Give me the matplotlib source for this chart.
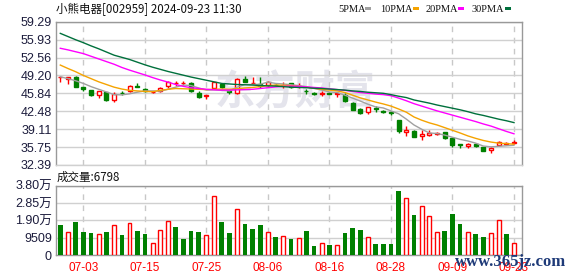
import matplotlib
matplotlib.use('Agg')
import matplotlib.pyplot as plt
from matplotlib.patches import Rectangle

plt.rcParams['font.family'] = ['Liberation Sans', 'Noto Sans CJK SC']

title = '小熊电器[002959] 2024-09-23 11:30'
tick_idx = [3, 11, 19, 27, 35, 43, 51, 59]
tick_labels = ['07-03', '07-15', '07-25', '08-06', '08-16', '08-28', '09-09', '09-23']
price_ticks = [32.39, 35.75, 39.11, 42.48, 45.84, 49.20, 52.56, 55.93, 59.29]
price_labels = ['32.39', '35.75', '39.11', '42.48', '45.84', '49.20', '52.56', '55.93', '59.29']
vol_ticks = [0, 9509, 19018, 28527, 38036]
vol_labels = ['0', '9509', '1.90万', '2.85万', '3.80万']

opens = [48.85, 48.45, 48.97, 46.95, 46.40, 45.45, 46.00, 44.50, 45.95, 46.35,
         47.20, 46.70, 46.10, 46.30, 47.20, 47.78, 47.84, 47.80, 45.95, 45.35,
         46.90, 47.60, 46.30, 45.90, 48.60, 47.72, 47.65, 47.40, 47.50, 47.35,
         47.70, 47.25, 46.35, 45.90, 45.80, 45.90, 45.75, 45.55, 44.05, 42.90,
         42.25, 43.00, 42.60, 42.40, 40.84, 38.65, 38.84, 37.75, 38.00, 38.25,
         38.55, 37.55, 36.25, 35.90, 36.30, 35.70, 35.20, 36.10, 36.35, 36.60]
highs = [48.92, 48.90, 49.10, 47.10, 46.55, 46.30, 46.15, 46.00, 46.30, 47.45,
         47.75, 46.85, 46.25, 47.00, 48.20, 48.20, 48.20, 47.90, 46.30, 45.55,
         48.05, 47.70, 46.50, 48.70, 49.15, 48.95, 48.95, 48.20, 47.65, 47.90,
         47.85, 47.70, 46.70, 46.10, 46.30, 46.00, 46.15, 45.85, 44.20, 43.00,
         43.30, 43.50, 42.70, 42.50, 40.90, 39.70, 38.90, 38.96, 38.96, 38.55,
         38.60, 37.60, 36.30, 36.60, 36.40, 35.75, 35.75, 36.95, 36.75, 37.10]
lows = [48.05, 47.66, 47.05, 46.35, 45.30, 44.90, 44.45, 44.15, 45.55, 46.00,
        47.05, 46.10, 45.85, 46.00, 46.80, 47.20, 47.35, 46.15, 44.90, 44.75,
        46.80, 46.80, 45.75, 45.80, 47.95, 47.60, 46.85, 47.30, 47.30, 46.80,
        46.80, 46.80, 45.70, 45.50, 45.40, 45.65, 45.20, 44.20, 42.70, 42.00,
        42.05, 42.40, 42.20, 41.80, 38.35, 37.84, 37.60, 37.00, 37.85, 38.00,
        37.30, 35.84, 35.60, 35.65, 35.80, 35.05, 34.70, 35.95, 36.20, 36.30]
closes = [48.85, 48.85, 47.10, 46.60, 45.45, 46.25, 44.60, 45.80, 45.85, 47.20,
          47.10, 46.30, 46.15, 46.90, 48.05, 47.78, 47.84, 46.20, 45.15, 45.45,
          47.95, 46.95, 46.00, 48.50, 48.00, 47.72, 47.15, 48.05, 47.35, 47.45,
          47.10, 47.30, 46.20, 45.80, 45.90, 45.80, 45.82, 44.45, 42.75, 42.20,
          43.20, 42.90, 42.35, 42.20, 38.75, 39.05, 37.71, 38.15, 38.40, 38.40,
          37.40, 36.20, 36.15, 36.30, 35.90, 35.10, 35.65, 36.65, 36.60, 36.72]
volumes = [16500, 12400, 18200, 12600, 12050, 11300, 12600, 16300, 10900, 17400,
           13150, 11500, 6850, 13500, 18500, 15400, 8700, 13150, 12600, 10750,
           32450, 18200, 12050, 25200, 17050, 14300, 16500, 12400, 9800, 10200,
           8700, 9100, 13150, 4800, 6850, 5400, 5750, 12050, 14850, 13700,
           9650, 5900, 5900, 5900, 35400, 31300, 22050, 26900, 21300, 12400,
           13150, 22600, 17050, 12400, 11500, 10000, 12050, 19100, 11500, 6798]
vol_up = [0, 1, 0, 0, 0, 1, 0, 1, 0, 1,
          0, 0, 1, 1, 1, 0, 0, 0, 0, 1,
          1, 0, 0, 1, 0, 0, 0, 1, 0, 1,
          0, 1, 0, 0, 1, 0, 1, 0, 0, 0,
          1, 0, 0, 0, 0, 1, 0, 1, 1, 1,
          0, 0, 0, 1, 0, 0, 1, 1, 0, 1]
ma5 = [48.95, 48.6, 48.2, 47.7, 47.1, 46.6, 46.1, 45.6, 45.55, 45.75,
       46.05, 46.3, 46.3, 46.25, 46.6, 47.0, 47.4, 47.3, 46.85, 46.45,
       46.5, 46.4, 46.3, 47.0, 47.5, 47.5, 47.55, 47.95, 47.7, 47.6,
       47.45, 47.3, 47.1, 46.75, 46.45, 46.1, 46.0, 45.5, 44.95, 44.4,
       43.8, 43.3, 43.1, 42.55, 42.0, 41.0, 39.9, 39.1, 38.4, 38.3,
       38.0, 37.6, 37.2, 36.9, 36.5, 35.95, 35.8, 35.9, 36.0, 36.1]
ma10 = [51.15, 50.5, 49.9, 49.2, 48.6, 48.0, 47.5, 47.0, 46.65, 46.4,
        46.3, 46.2, 46.15, 46.4, 46.6, 46.75, 46.7, 46.65, 46.6, 46.55,
        46.6, 46.65, 46.6, 46.7, 46.85, 46.95, 47.1, 47.3, 47.4, 47.35,
        47.3, 47.15, 47.0, 46.8, 46.6, 46.45, 46.3, 46.0, 45.5, 45.0,
        44.6, 44.2, 43.85, 43.45, 42.9, 42.3, 41.4, 40.8, 40.3, 39.9,
        39.4, 38.9, 38.4, 37.85, 37.4, 37.0, 36.7, 36.5, 36.4, 36.3]
ma20 = [54.3, 54.0, 53.65, 53.3, 52.8, 52.3, 51.8, 51.3, 50.7, 50.2,
        49.75, 49.3, 48.8, 48.35, 47.95, 47.5, 47.15, 46.9, 46.75, 46.6,
        46.5, 46.45, 46.45, 46.5, 46.55, 46.6, 46.75, 46.9, 47.05, 47.15,
        47.2, 47.15, 47.05, 46.95, 46.85, 46.7, 46.55, 46.4, 46.2, 46.0,
        45.85, 45.7, 45.6, 45.4, 44.95, 44.45, 43.9, 43.45, 43.0, 42.55,
        42.15, 41.75, 41.35, 40.95, 40.55, 40.1, 39.7, 39.2, 38.7, 38.25]
ma30 = [57.1, 56.5, 55.9, 55.35, 54.75, 54.2, 53.6, 53.0, 52.6, 52.2,
        51.7, 51.2, 50.75, 50.35, 49.95, 49.6, 49.25, 48.9, 48.6, 48.3,
        48.0, 47.7, 47.6, 47.5, 47.45, 47.4, 47.3, 47.25, 47.2, 47.1,
        47.0, 46.95, 46.9, 46.8, 46.75, 46.65, 46.55, 46.45, 46.3, 46.2,
        46.05, 45.95, 45.85, 45.6, 45.3, 45.05, 44.6, 44.3, 44.0, 43.65,
        43.35, 43.05, 42.75, 42.4, 42.0, 41.7, 41.35, 41.0, 40.7, 40.35]
ma_names = ['5PMA', '10PMA', '20PMA', '30PMA']
ma_colors = ['#a0a0a0', '#f5a300', '#ff00ff', '#00703c']

RED = '#ff0000'
GREEN = '#008000'
W, H = 578, 276

fig = plt.figure(figsize=(W / 100, H / 100), dpi=100)
fig.patch.set_facecolor('white')

def px_axes(left, top, right, bottom):
    return fig.add_axes([left / W, 1 - bottom / H, (right - left) / W, (bottom - top) / H])

ax1 = px_axes(56, 21.7, 522.3, 165)
ax2 = px_axes(56, 185.7, 522.3, 255)

n = len(closes)
xlim = (-0.56, 60.08)
label_color = '#1c1c3c'

for ax in (ax1, ax2):
    ax.set_xlim(*xlim)
    ax.set_axisbelow(True)
    ax.set_xticks(tick_idx)
    ax.grid(axis='x', color='#c8c8c8', linestyle=(0, (4, 4)), linewidth=1)
    ax.grid(axis='y', color='#d0d0d0', linestyle='-', linewidth=1)
    ax.tick_params(length=0)
    for s in ax.spines.values():
        s.set_color('#999999')
        s.set_linewidth(1)

# price panel
ax1.set_ylim(32.39, 59.29)
ax1.set_yticks(price_ticks)
ax1.set_yticklabels(price_labels, fontsize=9, color=label_color)
ax1.tick_params(axis='y', pad=3)
ax1.set_xticklabels([])
ax1.spines['bottom'].set_color('#d0d0d0')

ax1.text(0.512, 0.505, '东方财富', transform=ax1.transAxes, ha='center', va='center',
         fontsize=29, fontweight='bold', color='#e4e4ec', family=['Noto Sans CJK SC'], zorder=0.2)

bw = 0.52
for i in range(n):
    o, h, l, c = opens[i], highs[i], lows[i], closes[i]
    up = c >= o
    col = RED if up else GREEN
    ax1.vlines(i, l, h, color=col, linewidth=1, zorder=2)
    lo = min(o, c)
    ht = max(abs(c - o), 0.03)
    ax1.add_patch(Rectangle((i - bw / 2, lo), bw, ht,
                            facecolor='white' if up else GREEN, edgecolor=col,
                            linewidth=1, zorder=3))

xs = list(range(n))
for vals, col in zip([ma5, ma10, ma20, ma30], ma_colors):
    ax1.plot(xs, vals, color=col, linewidth=1, zorder=4)

# volume panel
ax2.set_ylim(0, 38036)
ax2.set_yticks(vol_ticks)
ax2.set_yticklabels(vol_labels, fontsize=9, color=label_color)
ax2.tick_params(axis='y', pad=3)
ax2.set_xticklabels(tick_labels, fontsize=8.5, color=RED)
ax2.tick_params(axis='x', pad=5)
for i in range(n):
    if vol_up[i]:
        ax2.bar(i, volumes[i], width=0.5, facecolor='white', edgecolor=RED, linewidth=1, zorder=3)
    else:
        ax2.bar(i, volumes[i], width=0.6, color=GREEN, linewidth=0, zorder=3)

# texts
fig.text(56 / W, 1 - 9 / H, title, ha='left', va='center', fontsize=8.3,
         family=['Noto Sans CJK SC'], color='#111111')
fig.text(57 / W, 1 - 177.5 / H, '成交量:6798', ha='left', va='center', fontsize=8.3,
         family=['Noto Sans CJK SC', 'Liberation Sans'], color='#111111')

leg_x = [338, 380, 425.7, 471.7]
sq_x = [365, 412.7, 458, 505]
for name, col, tx, sx in zip(ma_names, ma_colors, leg_x, sq_x):
    fig.text(tx / W, 1 - 9 / H, name, ha='left', va='center', fontsize=7.5,
             family=['Liberation Serif'], color='#111111')
    fig.patches.append(Rectangle((sx / W, 1 - 10 / H), 6 / W, 3 / H,
                                 transform=fig.transFigure, facecolor=col,
                                 edgecolor='none'))

fig.text(455 / W, 1 - 266 / H, 'www.365jz.com', ha='left', va='baseline', fontsize=12,
         family=['Liberation Serif'], fontweight='bold', color='#1e3a78')

fig.savefig('out.png', dpi=100)
